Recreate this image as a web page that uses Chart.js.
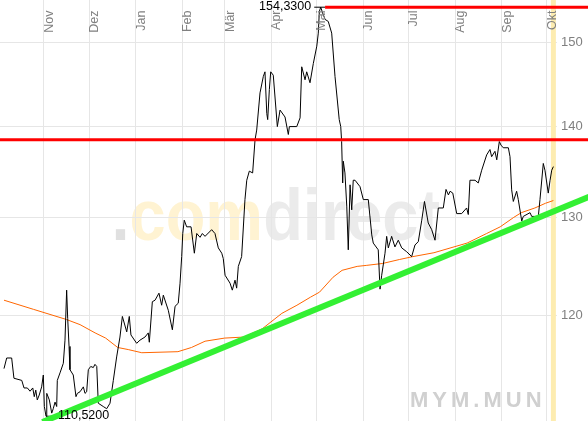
<!DOCTYPE html>
<html>
<head>
<meta charset="utf-8">
<script src="https://cdn.jsdelivr.net/npm/chart.js"></script>
<style>
    html, body { margin: 0; padding: 0; background: #fff; }
    #wrap { position: relative; width: 588px; height: 421px; }
</style>
</head>
<body>
<div id="wrap"><canvas id="kursChart"></canvas></div>
<script>
// x-Werte: Tage ab 1. Nov
var days = [-26.5, -24.7, -21.4, -19.9, -14.7, -13.2, -11.0, -9.2, -7.4, -6.4,
    -5.4, -4.4, -3.1, -1.5, -0.4, 0.3, 1.4, 1.9, 3.6, 5.2,
    6.2, 7.4, 8.5, 8.9, 10.7, 12.9, 14.0, 15.1, 15.8, 16.7,
    17.3, 19.5, 21.3, 22.2, 24.0, 26.2, 27.3, 28.4, 29.5, 31.1,
    32.8, 33.9, 35.1, 36.1, 39.4, 41.7, 43.9, 46.1, 48.3, 50.5,
    52.1, 55.0, 56.7, 57.8, 61.6, 63.8, 67.1, 69.3, 70.0, 72.0,
    73.8, 76.4, 78.2, 79.3, 82.6, 85.3, 87.1, 89.2, 90.4, 91.5,
    92.2, 93.2, 94.8, 97.7, 99.9, 101.5, 103.7, 105.2, 107.0, 111.4,
    113.6, 115.8, 118.1, 119.1, 120.3, 123.6, 125.1, 126.9, 128.0, 129.1,
    131.3, 133.5, 134.7, 136.4, 138.6, 140.2, 141.3, 143.5, 145.7, 146.8,
    148.0, 148.6, 149.7, 150.6, 152.3, 155.0, 156.8, 160.1, 162.3, 163.0,
    167.9, 170.1, 171.2, 173.4, 174.5, 176.7, 178.9, 181.2, 182.2, 182.9,
    183.8, 185.1, 186.7, 188.8, 191.1, 193.3, 196.1, 197.1, 197.7, 198.4,
    198.8, 199.9, 201.1, 202.1, 203.3, 204.4, 205.4, 206.6, 209.9, 212.1,
    215.4, 217.7, 218.7, 222.0, 223.2, 224.3, 226.5, 227.6, 228.7, 230.9,
    233.1, 235.3, 237.6, 240.9, 244.2, 246.4, 248.6, 250.9, 252.7, 255.2,
    257.5, 259.7, 261.9, 265.2, 267.0, 268.6, 269.7, 271.5, 274.1, 277.4,
    280.7, 281.8, 282.9, 286.3, 288.4, 290.7, 294.0, 296.2, 297.3, 299.5,
    300.7, 302.4, 303.5, 305.0, 308.4, 309.5, 310.6, 311.7, 313.9, 315.0,
    317.3, 318.3, 322.8, 323.9, 328.3, 329.4, 331.6, 332.7, 334.9, 336.1,
    337.2, 338.3];

var price = [114.9, 115.9, 115.9, 114.0, 113.8, 113.1, 113.1, 112.8, 113.1, 112.3,
    112.9, 112.0, 112.45, 113.2, 114.3, 111.4, 110.52, 112.6, 112.0, 110.8,
    111.2, 111.8, 111.4, 113.8, 114.5, 115.4, 117.6, 122.5, 119.7, 117.0,
    114.8, 114.3, 112.3, 112.6, 112.75, 113.2, 112.6, 112.75, 114.8, 115.1,
    115.0, 115.3, 115.1, 111.7, 111.4, 111.2, 111.7, 113.8, 116.0, 117.9,
    119.9, 118.4, 119.9, 118.1, 117.3, 117.6, 117.9, 118.3, 117.4, 121.35,
    121.5, 122.2, 121.0, 122.0, 120.5, 118.6, 120.9, 121.2, 123.2, 125.9,
    128.3, 129.7, 129.0, 129.0, 126.25, 128.3, 127.9, 128.3, 128.0, 128.7,
    128.3, 126.8, 126.25, 125.7, 124.0, 123.2, 122.5, 123.5, 122.7, 124.9,
    125.9, 131.9, 134.0, 135.0, 134.8, 138.5, 139.6, 143.9, 145.85, 146.4,
    141.5, 140.8, 144.3, 146.4, 146.0, 140.0, 141.9, 141.1, 139.1, 140.0,
    140.0, 141.0, 147.0, 145.45, 146.4, 145.1, 147.4, 149.5, 151.1, 153.8,
    154.33, 153.6, 152.8, 152.55, 151.1, 145.85, 140.8, 140.0, 138.3, 133.7,
    136.1, 134.8, 131.2, 126.6, 133.5, 130.8, 134.0, 134.0, 133.3, 131.9,
    131.9, 128.15, 127.3, 126.6, 122.6, 124.0, 126.25, 128.0, 126.8, 128.0,
    126.9, 127.6, 126.8, 126.4, 125.9, 127.1, 127.45, 129.7, 131.7, 129.4,
    128.7, 127.6, 131.0, 131.0, 133.0, 132.4, 132.8, 132.6, 130.4, 130.4,
    131.0, 130.3, 134.0, 134.0, 133.7, 135.1, 136.8, 137.4, 136.6, 137.2,
    136.25, 138.3, 137.9, 137.6, 137.6, 136.6, 132.95, 131.7, 132.8, 131.9,
    129.6, 130.1, 130.5, 130.1, 130.1, 131.9, 135.85, 135.1, 132.6, 134.0,
    135.1, 135.5];

// gleitender Durchschnitt (orange)
var maDays = [-26.5, -7, 15, 24, 34, 41, 49, 56, 65, 89, 98, 107, 120, 133, 145, 158, 168, 177, 183, 192,
    198, 208, 214, 225, 236, 245, 259, 281, 294, 303, 312, 317, 326, 333, 338.3];
var maValues = [121.5, 120.6, 119.6, 119.1, 118.3, 117.8, 116.9, 116.7, 116.4, 116.5, 116.9, 117.5, 117.8, 117.9, 118.7, 120.2, 121.0, 121.8, 122.3, 123.8,
    124.5, 124.9, 125.0, 125.2, 125.6, 125.9, 126.3, 127.3, 128.3, 129.0, 130.0, 130.5, 131.0, 131.5, 131.8];

var months = ["Nov", "Dez", "Jan", "Feb", "Mär", "Apr", "Mai", "Jun", "Jul", "Aug", "Sep", "Okt"];
var monthStart = [0, 30, 61, 92, 120, 151, 181, 212, 242, 273, 304, 334];
var yTicks = [120, 130, 140, 150];

var trendDays = [-1, 362];
var trendValues = [110.0, 132.2];
var resistance = 138.5;
var highDay = 183.8, highValue = 154.33;
var lowDay = 1.4, lowValue = 110.52;
var today = 338.3;

var xMin = -29.15, xMax = 340.7;
var yMin = 110.09, yMax = 155.24;

function pairs(xs, ys) {
    return xs.map(function (x, i) {
        return { x: x, y: ys[i] };
    });
}

function fmt(v) {
    return v.toFixed(4).replace(".", ",");
}

var extras = {
    id: "extras",
    beforeDraw: function (chart) {
        var ctx = chart.ctx;
        ctx.save();
        ctx.translate(111.5, 240);
        ctx.scale(0.89, 1);
        ctx.font = 'bold 73px "Liberation Sans"';
        ctx.textBaseline = "alphabetic";
        var x = 0;
        [[".", "#e0e0e0"], ["com", "#fff3d2"], ["direct", "#ebebeb"]].forEach(function (p) {
            ctx.fillStyle = p[1];
            ctx.fillText(p[0], x, 0);
            x += ctx.measureText(p[0]).width;
        });
        ctx.restore();

        ctx.save();
        ctx.font = 'bold 22px "Liberation Sans"';
        ctx.letterSpacing = "4px";
        ctx.fillStyle = "#d0d0d0";
        ctx.textBaseline = "alphabetic";
        ctx.fillText("MYM.MUN", 410, 407);
        ctx.restore();
    },
    afterDatasetsDraw: function (chart) {
        var ctx = chart.ctx;
        var xs = chart.scales.x, ys = chart.scales.y;

        // Monatsnamen oben, senkrecht
        ctx.save();
        ctx.font = '12.5px "Liberation Sans"';
        ctx.fillStyle = "#808080";
        months.forEach(function (m, i) {
            var px = xs.getPixelForValue(monthStart[i]) + 9;
            ctx.save();
            ctx.translate(px, 10.5);
            ctx.rotate(-Math.PI / 2);
            ctx.textAlign = "right";
            ctx.textBaseline = "alphabetic";
            ctx.fillText(m, 0, 0);
            ctx.restore();
        });
        ctx.restore();

        // Hoch / Tief
        ctx.save();
        ctx.font = '12.5px "Liberation Sans"';
        ctx.fillStyle = "#000";
        ctx.textBaseline = "middle";
        ctx.textAlign = "right";
        ctx.fillText(fmt(highValue), xs.getPixelForValue(highDay) - 9.5, ys.getPixelForValue(highValue) - 1);
        ctx.textAlign = "left";
        ctx.fillText(fmt(lowValue), xs.getPixelForValue(lowDay) + 12, ys.getPixelForValue(lowValue) - 1);
        ctx.restore();
    }
};

var ctx = document.getElementById("kursChart");

var data = {
    datasets: [
        {
            data: pairs(trendDays, trendValues),
            borderColor: "#33f033",
            borderWidth: 6,
            clip: false
        },
        {
            data: [{ x: -30, y: resistance }, { x: 362, y: resistance }],
            borderColor: "#ff0000",
            borderWidth: 3,
            clip: false
        },
        {
            data: [{ x: 186.7, y: highValue }, { x: 362, y: highValue }],
            borderColor: "#ff0000",
            borderWidth: 3,
            clip: false
        },
        {
            data: [{ x: 179.5, y: highValue }, { x: 186.7, y: highValue }],
            borderColor: "#000",
            borderWidth: 1,
            clip: false
        },
        {
            data: [{ x: lowDay, y: lowValue }, { x: 8, y: lowValue }],
            borderColor: "#000",
            borderWidth: 1
        },
        {
            data: pairs(days, price),
            borderColor: "#000",
            borderWidth: 1
        },
        {
            data: pairs(maDays, maValues),
            borderColor: "#ff6600",
            borderWidth: 1
        },
        {
            data: [{ x: today, y: yMin }, { x: today, y: yMax }],
            borderColor: "#fdecb0",
            borderWidth: 5,
            clip: false
        }
    ]
};

var options = {
    responsive: true,
    maintainAspectRatio: false,
    animation: false,
    events: [],
    layout: { padding: 0 },
    elements: {
        point: { radius: 0 },
        line: { tension: 0, fill: false }
    },
    plugins: {
        legend: { display: false },
        tooltip: { enabled: false }
    },
    scales: {
        x: {
            type: "linear",
            min: xMin,
            max: xMax,
            afterBuildTicks: function (scale) {
                scale.ticks = monthStart.map(function (v) { return { value: v }; });
            },
            afterFit: function (scale) {
                scale.height = 0;
                scale.paddingLeft = 0;
                scale.paddingRight = 0;
            },
            ticks: { display: false },
            grid: { color: "#e6e6e6", drawTicks: false },
            border: { display: false }
        },
        y: {
            type: "logarithmic",
            position: "right",
            min: yMin,
            max: yMax,
            afterBuildTicks: function (scale) {
                scale.ticks = yTicks.map(function (v) { return { value: v }; });
            },
            afterFit: function (scale) {
                scale.width = 31;
                scale.paddingTop = 0;
                scale.paddingBottom = 0;
            },
            ticks: {
                padding: 4,
                color: "#808080",
                font: { family: "Liberation Sans", size: 13 },
                callback: function (v) { return String(v); }
            },
            grid: { color: "#e6e6e6", drawTicks: false },
            border: { display: false }
        }
    }
};

var chart1 = new Chart(ctx, {
    type: "line",
    data: data,
    options: options,
    plugins: [extras]
});
</script>
</body>
</html>
